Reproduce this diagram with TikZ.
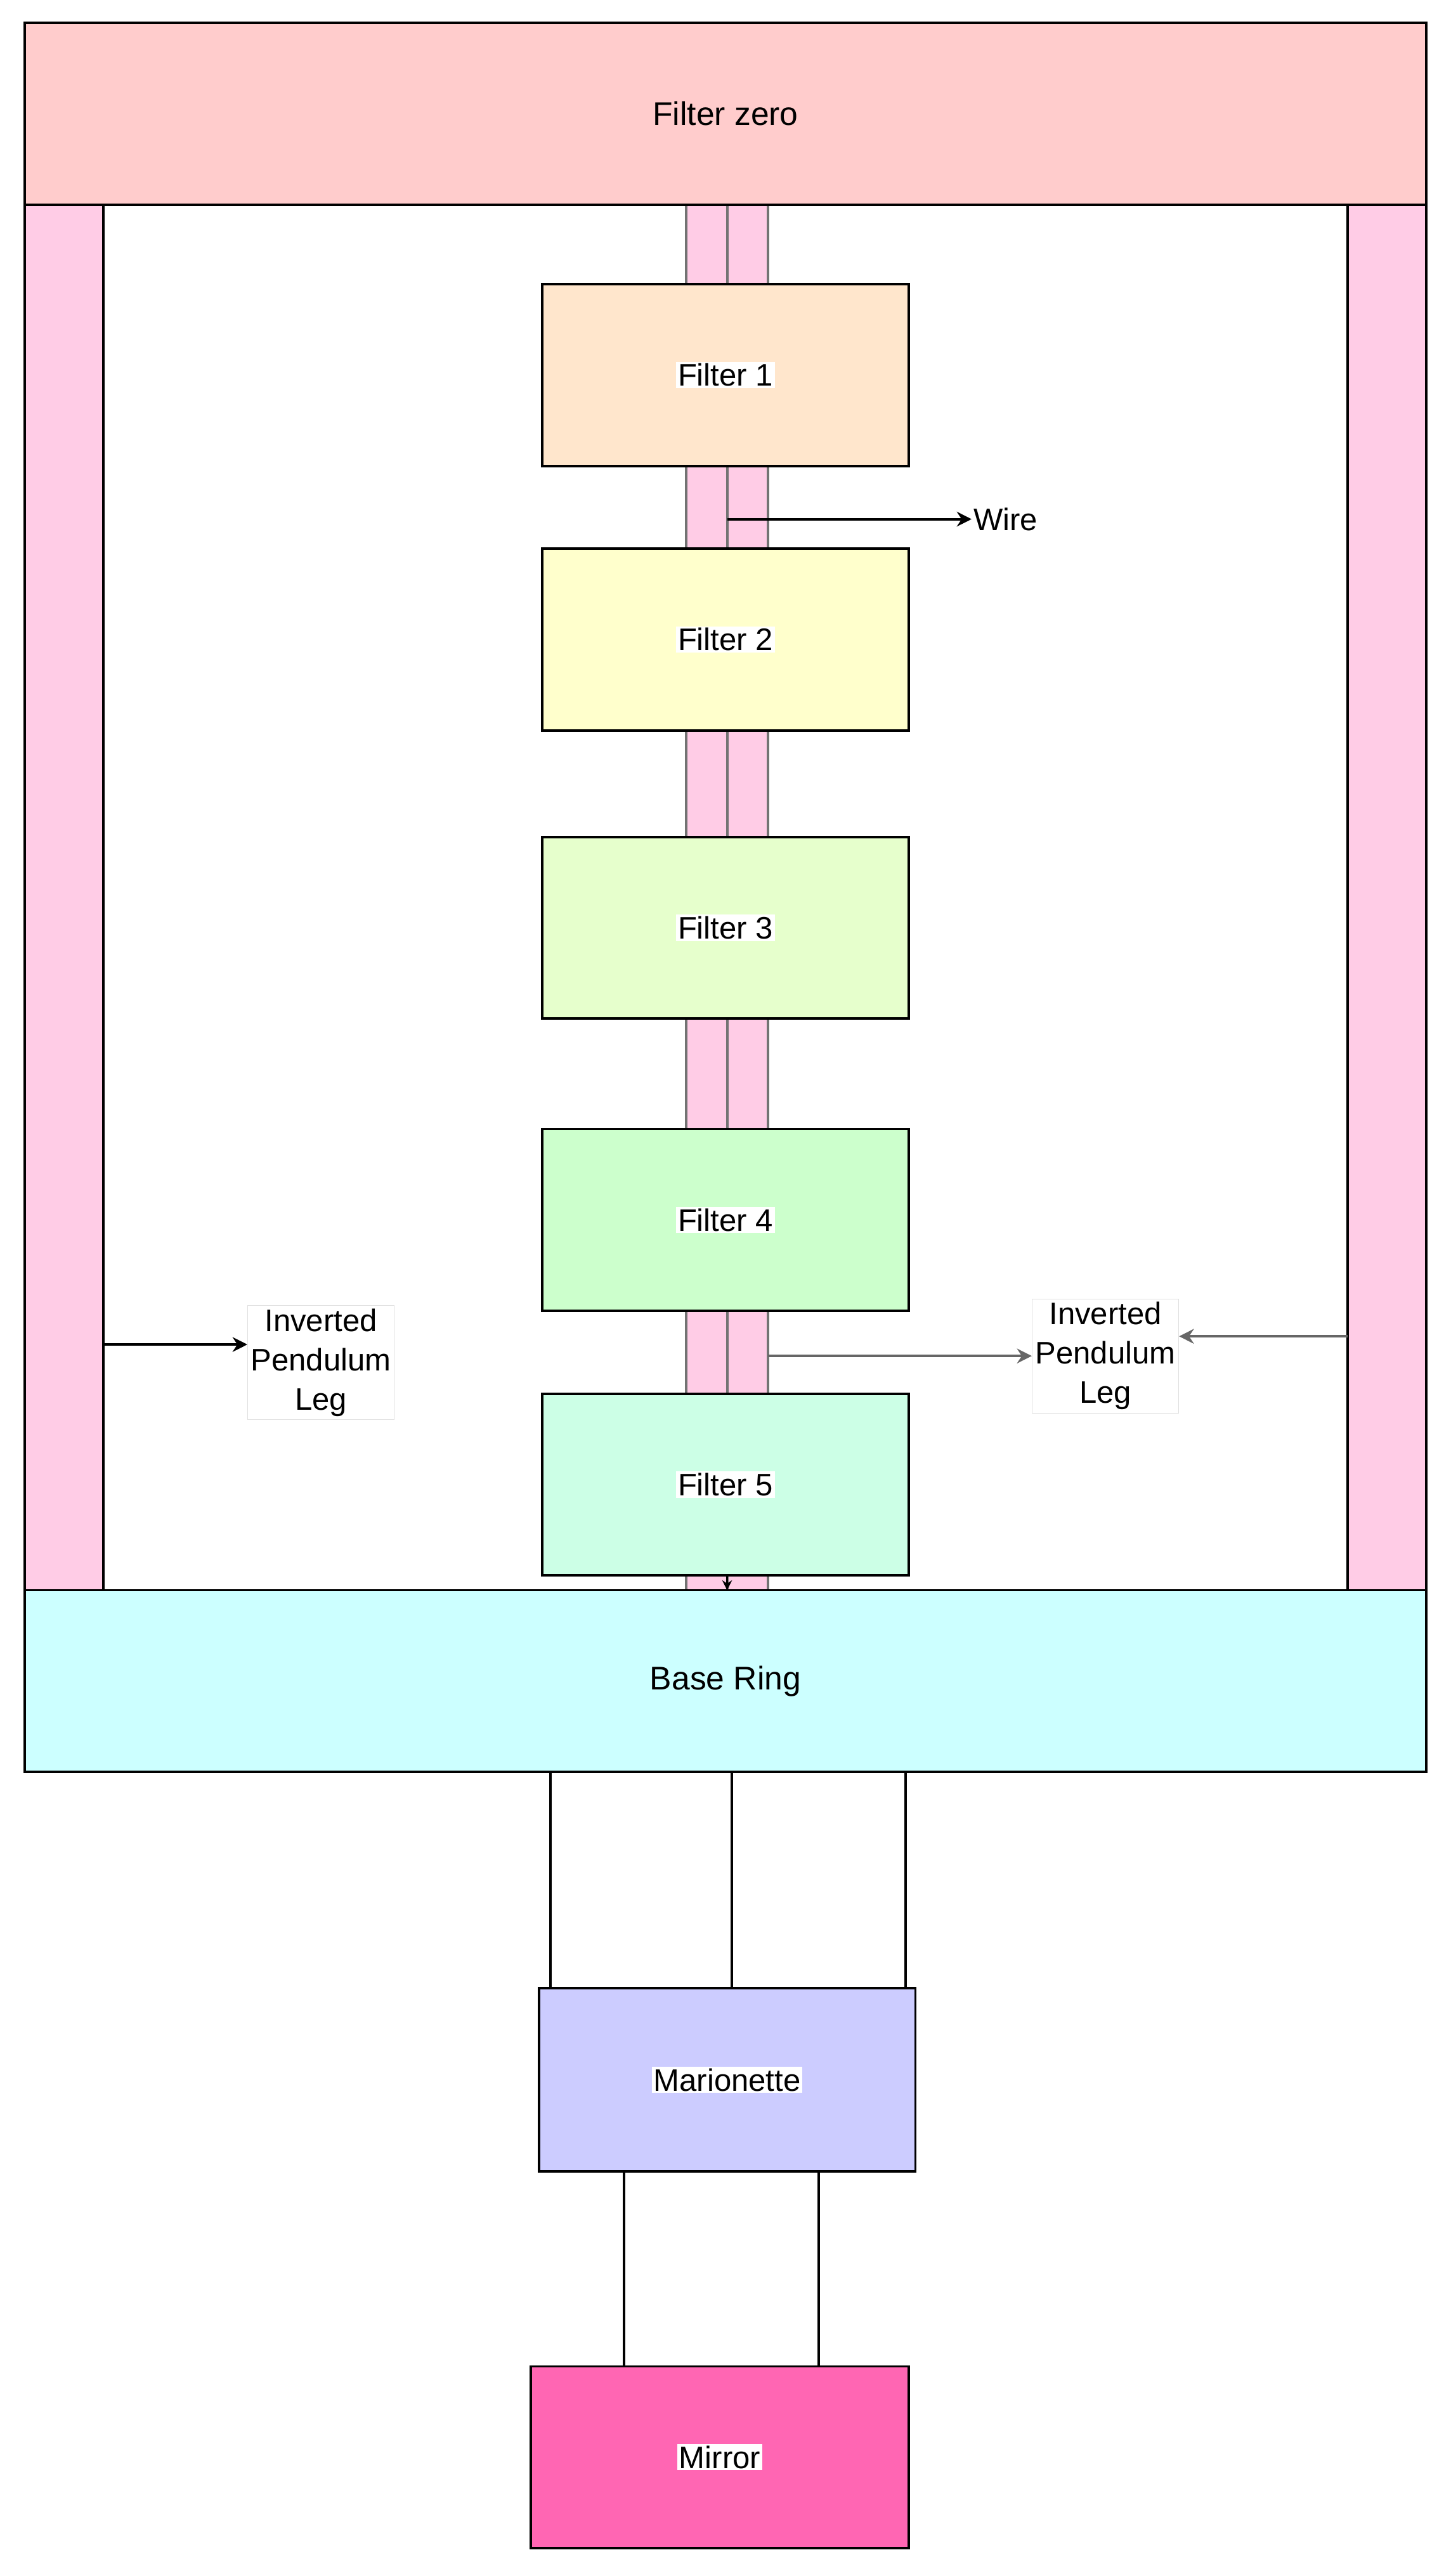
\documentclass[tikz,border=0pt]{standalone}
\usepackage{fontspec}
\setmainfont{Liberation Sans}
\usetikzlibrary{arrows.meta}
\definecolor{legpink}{HTML}{FFCCE6}
\definecolor{c0}{HTML}{FFCCCC}
\definecolor{c1}{HTML}{FFE6CC}\definecolor{c2}{HTML}{FFFFCC}\definecolor{c3}{HTML}{E6FFCC}
\definecolor{c4}{HTML}{CCFFCC}\definecolor{c5}{HTML}{CCFFE6}\definecolor{cb}{HTML}{CCFFFF}
\definecolor{cm}{HTML}{CCCCFF}\definecolor{cmi}{HTML}{FF66B3}
\begin{document}
\begin{tikzpicture}[x=1pt,y=-1pt,
  box/.style={draw=black,line width=1.5pt},
  strip/.style={draw=gray!90!black,fill=legpink,line width=1.5pt},
  lbl/.style={fill=white,inner sep=1pt,font=\fontsize{19}{22}\selectfont},
  tbox/.style={fill=white,draw=gray!25,align=center,inner sep=2pt,font=\fontsize{19}{24}\selectfont},
  arr/.style={-{Stealth[length=9pt,width=9pt]},line width=1.6pt},
  wire/.style={line width=1.5pt},
  filt/.style={box,minimum width=224pt,minimum height=111pt,inner sep=0pt}]
\useasboundingbox (0,0) rectangle (886,1573);
% central strips
\draw[strip] (419,125) rectangle (444,971);
\draw[strip] (444,125) rectangle (469,971);
% legs
\draw[box,fill=legpink] (15,125) rectangle (63,971);
\draw[box,fill=legpink] (823,125) rectangle (871,971);
\node[box,fill=c0,minimum width=856pt,minimum height=111pt,font=\fontsize{20}{24}\selectfont] (f0) at (443,69.5) {Filter zero};
\node[filt,fill=c1] (f1) at (443,229) {};
\node[lbl] at (f1) {Filter 1};
\node[filt,fill=c2] (f2) at (443,390.5) {};
\node[lbl] at (f2) {Filter 2};
\node[filt,fill=c3] (f3) at (443,566.5) {};
\node[lbl] at (f3) {Filter 3};
\node[filt,fill=c4] (f4) at (443,745) {};
\node[lbl] at (f4) {Filter 4};
\node[filt,fill=c5] (f5) at (443,906.5) {};
\node[lbl] at (f5) {Filter 5};
\node[box,fill=cb,minimum width=856pt,minimum height=111pt,font=\fontsize{20}{24}\selectfont] (base) at (443,1026.5) {Base Ring};
\node[box,fill=cm,minimum width=230pt,minimum height=112pt] (mar) at (444,1270) {};
\node[lbl] at (mar) {Marionette};
\node[box,fill=cmi,minimum width=231pt,minimum height=111pt] (mir) at (439.5,1500.5) {};
\node[lbl] at (mir) {Mirror};
% labels
\node[lbl,inner sep=1pt] (wl) at (614,317) {Wire};
\node[tbox] (ipr) at (675,828) {Inverted\\Pendulum\\Leg};
\node[tbox] (ipl) at (196,832) {Inverted\\Pendulum\\Leg};
\coordinate (w0) at (444,317);
\draw[arr] (w0) -- (wl.west);
\coordinate (r0) at (469,828);
\draw[arr,gray!80!black] (r0) -- (ipr.west);
\coordinate (r1) at (823,816);
\draw[arr,gray!80!black] (r1) -- (ipr.east |- r1);
\coordinate (l0) at (63,821);
\draw[arr] (l0) -- (ipl.west |- l0);
\coordinate (d0) at (444,962);
\coordinate (d1) at (444,971);
\draw[-{Stealth[length=6pt,width=6pt]},line width=1pt] (d0) -- (d1);
% suspension wires
\foreach \x in {336,447,553} \draw[wire] (\x,1082) -- (\x,1214);
\foreach \x in {381,500} \draw[wire] (\x,1326) -- (\x,1445);
\end{tikzpicture}
\end{document}
